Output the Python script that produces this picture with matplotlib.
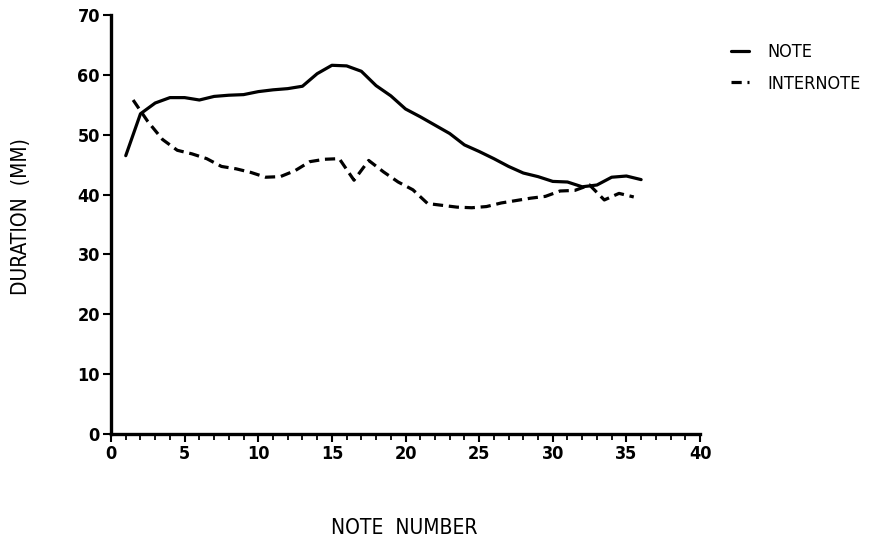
import matplotlib
matplotlib.use("Agg")
import matplotlib.pyplot as plt
from matplotlib.ticker import MultipleLocator

# note durations, one value per note (1..36)
note_x = list(range(1, 37))
note_dur = [46.5, 53.5, 55.3, 56.2, 56.2, 55.8, 56.4, 56.6, 56.7, 57.2,
            57.5, 57.7, 58.1, 60.2, 61.6, 61.5, 60.6, 58.2, 56.5, 54.3,
            53.0, 51.6, 50.2, 48.3, 47.2, 46.0, 44.7, 43.6, 43.0, 42.2,
            42.1, 41.3, 41.6, 42.9, 43.1, 42.5]

# internote intervals sit between consecutive notes
inter_x = [n + 0.5 for n in range(1, 36)]
inter_dur = [55.8, 52.2, 49.2, 47.4, 46.8, 46.0, 44.7, 44.3, 43.7, 42.9,
             43.0, 44.0, 45.5, 45.9, 46.0, 42.4, 45.7, 43.8, 42.1, 40.8,
             38.5, 38.2, 37.9, 37.8, 38.0, 38.6, 39.0, 39.4, 39.7, 40.6,
             40.7, 41.6, 39.1, 40.2, 39.6]

x_ticks = [0, 5, 10, 15, 20, 25, 30, 35, 40]
y_ticks = [0, 10, 20, 30, 40, 50, 60, 70]

plt.rcParams['font.family'] = ['DejaVu Sans']
plt.rcParams['font.stretch'] = 'condensed'

fig = plt.figure(figsize=(8.77, 5.38), dpi=100)
ax = fig.add_axes([0.1266, 0.1933, 0.6716, 0.7788])

ax.plot(note_x, note_dur, color="black", lw=2.3, label="NOTE",
        solid_capstyle="round", solid_joinstyle="round")
ax.plot(inter_x, inter_dur, color="black", lw=2.3, dashes=[3.2, 1.8],
        label="INTERNOTE", dash_capstyle="butt")

ax.set_xlim(0, 40)
ax.set_ylim(0, 70)
ax.set_xticks(x_ticks)
ax.set_yticks(y_ticks)
ax.xaxis.set_minor_locator(MultipleLocator(1))

for side in ["top", "right"]:
    ax.spines[side].set_visible(False)
for side in ["left", "bottom"]:
    ax.spines[side].set_linewidth(2.4)

ax.tick_params(axis="both", which="major", direction="out", length=6,
               width=1.5, labelsize=13, pad=2)
ax.tick_params(axis="x", which="minor", direction="out", length=4, width=1.3)
for lab in ax.get_xticklabels() + ax.get_yticklabels():
    lab.set_fontweight("bold")

# axis titles placed in figure coordinates
fig.text(404.5 / 877, 1 - 528 / 538, "NOTE  NUMBER", fontsize=15,
         ha="center", va="center")
fig.text(21 / 877, 1 - 217 / 538, "DURATION  (MM)", fontsize=15,
         ha="center", va="center", rotation=90)

ax.legend(loc="upper left", bbox_to_anchor=(0.815, 0.95),
          bbox_transform=fig.transFigure, frameon=False, fontsize=13,
          handlelength=1.0, handletextpad=1.0, labelspacing=0.75)

fig.savefig("out.png", dpi=100)
